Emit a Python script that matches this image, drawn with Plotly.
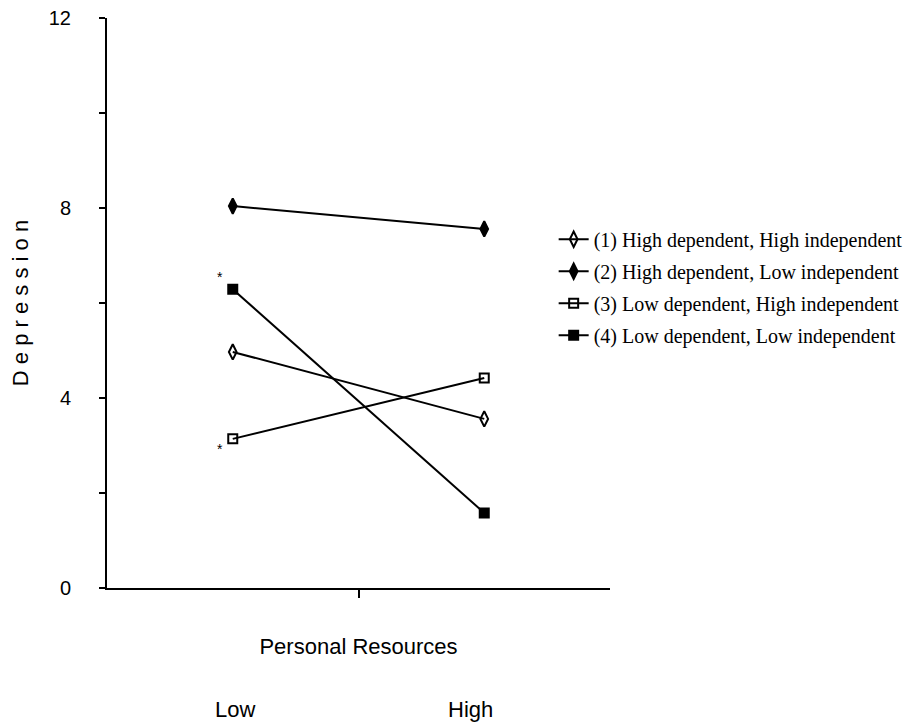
import plotly.graph_objects as go

categories = ["Low", "High"]
series_names = [
    "(1) High dependent, High independent",
    "(2) High dependent, Low independent",
    "(3) Low dependent, High independent",
    "(4) Low dependent, Low independent",
]
series_values = [
    [4.97, 3.56],
    [8.04, 7.56],
    [3.14, 4.42],
    [6.29, 1.58],
]
series_symbols = ["diamond-tall-open", "diamond-tall", "square-open", "square"]
star_values = [6.55, 2.92]  # significance markers next to "Low" points
y_tick_labels = [0, 4, 8, 12]

x_pos = [i + 1 for i in range(len(categories))]
SANS = "Liberation Sans Narrow, Liberation Sans, Arial"

fig = go.Figure()
for i, (name, vals, sym) in enumerate(zip(series_names, series_values, series_symbols)):
    fig.add_trace(go.Scatter(
        x=x_pos, y=vals, name=name, mode="lines+markers",
        line=dict(color="black", width=2),
        marker=dict(symbol=sym, size=11 if "diamond" in sym else 9, color="black",
                    line=dict(color="black", width=2)),
        legendgroup=f"g{i}",
    ))

for sv in star_values:
    fig.add_annotation(x=x_pos[0], y=sv, text="*", showarrow=False, xshift=-13,
                       font=dict(family="Liberation Sans", size=14, color="black"))

# category labels below the axis title
cat_x = [0.254, 0.722]
for cx, c in zip(cat_x, categories):
    fig.add_annotation(x=cx, xref="paper", y=-0.213, yref="paper", text=c, showarrow=False,
                       font=dict(family=SANS, size=22, color="black"),
                       xanchor="center", yanchor="middle")

# page body adds an 8px offset, so the figure is sized to fit the window
fig.update_layout(
    width=905, height=718,
    margin=dict(l=99, r=303, t=10, b=138, autoexpand=False),
    plot_bgcolor="white", paper_bgcolor="white",
    font=dict(family=SANS, size=20, color="black"),
    showlegend=True,
    legend=dict(x=0.888, xanchor="left", y=0.646, yanchor="top",
                font=dict(family="Liberation Serif", size=20, color="black"),
                itemwidth=30, tracegroupgap=3, bgcolor="rgba(0,0,0,0)"),
)
fig.update_xaxes(
    range=[0.5, 2.5], showgrid=False, zeroline=False, automargin=False,
    showline=True, linecolor="black", linewidth=2,
    tickvals=[1.5], ticks="outside", ticklen=8, tickwidth=2, tickcolor="black",
    showticklabels=False,
    title=dict(text="Personal Resources", standoff=42,
               font=dict(family=SANS, size=22)),
)
fig.update_yaxes(
    range=[0, 12], showgrid=False, zeroline=False, automargin=False,
    showline=True, linecolor="black", linewidth=2,
    tickvals=y_tick_labels, ticks="outside", ticklen=6, tickwidth=2, tickcolor="black",
    ticklabelstandoff=24, ticklabeloverflow="allow", tickfont=dict(family=SANS, size=20),
    minor=dict(dtick=2, ticks="outside", ticklen=6, tickwidth=2, tickcolor="black", showgrid=False),
    title=dict(text="D e p r e s s i o n", standoff=16,
               font=dict(family=SANS, size=22)),
)

fig.write_html("out.html")
